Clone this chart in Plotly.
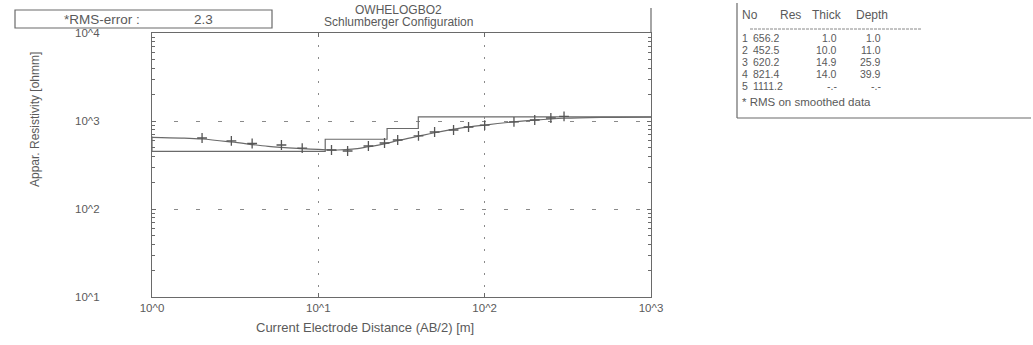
import plotly.graph_objects as go

# ---------------- data ----------------
# observed apparent resistivity (field data, "+")
ab2_obs = [2, 3, 4, 6, 8, 12, 15, 20, 25, 30, 40, 50, 65, 80, 100, 150, 200, 250, 300]
rho_obs = [641, 593, 555, 534, 493, 468, 456, 520, 562, 608, 676, 750, 790, 855, 900, 975, 1026, 1082, 1130]

# calculated model curve
ab2_calc = [1, 1.5, 2, 3, 5, 8, 10, 13, 16, 20, 25, 30, 40, 50, 70, 100, 150, 200, 300, 500, 1000]
rho_calc = [652, 640, 624, 578, 515, 485, 475, 468, 478, 510, 550, 598, 672, 735, 825, 900, 978, 1025, 1075, 1100, 1108]

# layered model
layer_no = [1, 2, 3, 4, 5]
layer_res = [656.2, 452.5, 620.2, 821.4, 1111.2]
layer_thick = ["1.0", "10.0", "14.9", "14.0", "-.-"]
layer_depth = [1.0, 11.0, 25.9, 39.9]
depth_text = ["1.0", "11.0", "25.9", "39.9", "-.-"]

y_tickvals = [10, 100, 1000, 10000]
y_ticktext = ["10^1", "10^2", "10^3", "10^4"]
x_tickvals = [1, 10, 100, 1000]
x_ticktext = ["10^0", "10^1", "10^2", "10^3"]
y_minor = [k * 10 ** d for d in (1, 2, 3) for k in range(2, 10)]

# ---------------- layout geometry ----------------
W, H = 1033, 345
L, R, T, B = 152, 651, 33, 297
FONT = "Liberation Sans, Arial, sans-serif"
GRAY = "#5a5a5a"
LINE = "#6a6a6a"


def px(x):
    return (x - L) / (R - L)


def py(y):
    return (B - y) / (B - T)


fig = go.Figure()

# step model
step_x = [0.5] + layer_depth + [1000]
step_y = layer_res + [layer_res[-1]]
fig.add_trace(go.Scatter(x=step_x, y=step_y, mode="lines", line_shape="hv",
                         line=dict(color=LINE, width=1.2), showlegend=False))
# calculated curve
fig.add_trace(go.Scatter(x=ab2_calc, y=rho_calc, mode="lines", line_shape="spline",
                         line=dict(color=LINE, width=1.2), showlegend=False))
# observed points
fig.add_trace(go.Scatter(x=ab2_obs, y=rho_obs, mode="markers",
                         marker=dict(symbol="cross-thin", size=7,
                                     line=dict(color="#555", width=1.3)),
                         showlegend=False))

fig.update_xaxes(type="log", range=[0, 3], tickmode="array", tickvals=x_tickvals,
                 ticktext=x_ticktext, showline=True, mirror="allticks", linecolor=LINE,
                 linewidth=1.2, ticks="inside", ticklen=4, tickcolor=LINE,
                 showgrid=True, gridcolor="#8a8a8a", gridwidth=1, griddash="2px,10px",
                 zeroline=False, tickfont=dict(family=FONT, size=11.5, color=GRAY))
fig.update_yaxes(type="log", range=[1, 4], tickmode="array", tickvals=y_tickvals,
                 ticktext=y_ticktext, showline=True, mirror="allticks", linecolor=LINE,
                 linewidth=1.2, ticks="inside", ticklen=4, tickcolor=LINE,
                 showgrid=True, gridcolor="#8a8a8a", gridwidth=1, griddash="4px,18px",
                 zeroline=False, ticklabelstandoff=49,
                 tickfont=dict(family=FONT, size=11.5, color=GRAY),
                 minor=dict(tickmode="array", tickvals=y_minor, ticks="inside", ticklen=3,
                            tickcolor=LINE, showgrid=False))

shapes = [
    # RMS box
    dict(type="rect", xref="paper", yref="paper", x0=px(15), x1=px(272), y0=py(28), y1=py(10),
         line=dict(color=LINE, width=1.2)),
    # title box right edge
    dict(type="line", xref="paper", yref="paper", x0=1, x1=1, y0=1, y1=py(8),
         line=dict(color=LINE, width=1.2)),
    # table box
    dict(type="line", xref="paper", yref="paper", x0=px(737), x1=px(737), y0=py(118), y1=py(3),
         line=dict(color=LINE, width=1.2)),
    dict(type="line", xref="paper", yref="paper", x0=px(737), x1=px(1031), y0=py(118), y1=py(118),
         line=dict(color=LINE, width=1.2)),
    dict(type="line", xref="paper", yref="paper", x0=px(750), x1=px(922), y0=py(29), y1=py(29),
         line=dict(color="#888", width=1, dash="3px,1px")),
]

ann = []


def text(x, y, s, size=11, anchor="center", angle=0):
    ann.append(dict(xref="paper", yref="paper", x=px(x), y=py(y), text=s, showarrow=False,
                    xanchor=anchor, yanchor="middle", textangle=angle, borderpad=0,
                    font=dict(family=FONT, size=size, color=GRAY)))


text(63, 19, "*RMS-error :", size=13.5, anchor="left")
text(193, 19, "2.3", size=13.5, anchor="left")
text(398, 10, "OWHELOGBO2", size=12)
text(398, 22, "Schlumberger Configuration", size=12)
text(365, 327, "Current Electrode Distance (AB/2) [m]", size=13)
text(35, 120, "Appar. Resistivity [ohmm]", size=12, angle=-90)

# table
TS = 12
RS = 10.5
text(741, 15, "No", size=TS, anchor="left")
text(779, 15, "Res", size=TS, anchor="left")
text(811, 15, "Thick", size=TS, anchor="left")
text(855, 15, "Depth", size=TS, anchor="left")
row_y = [38, 50, 62, 74, 86]
for i in range(len(layer_no)):
    text(741, row_y[i], str(layer_no[i]), size=RS, anchor="left")
    text(752, row_y[i], f"{layer_res[i]:.1f}", size=RS, anchor="left")
    text(838, row_y[i], layer_thick[i], size=RS, anchor="right")
    text(882, row_y[i], depth_text[i], size=RS, anchor="right")
text(741, 102, "* RMS on smoothed data", size=11.5, anchor="left")

fig.update_layout(width=W, height=H, margin=dict(l=L, r=W - R, t=T, b=H - B),
                  paper_bgcolor="white", plot_bgcolor="white",
                  shapes=shapes, annotations=ann, showlegend=False)

fig.write_html("out.html")
